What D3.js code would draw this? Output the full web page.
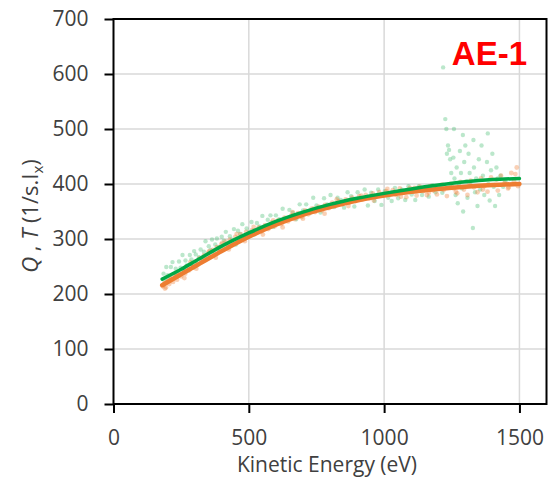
<!DOCTYPE html>
<html>
<head>
<meta charset="utf-8">
<script src="https://cdn.jsdelivr.net/npm/d3@7"></script>
<style>
  body { margin: 0; background: #fff; }
  svg { display: block; }
  text { font-family: "Open Sans", "Noto Sans", sans-serif; fill: #404040; }
</style>
</head>
<body>
<div id="chart"></div>
<script>
// Tick values
const xTicks = [0, 500, 1000, 1500];
const yTicks = [0, 100, 200, 300, 400, 500, 600, 700];

// Fitted curves (kinetic energy, value)
const fitQ = [[180, 227], [250, 245], [300, 259], [400, 287], [500, 311], [600, 332], [700, 349], [800, 363], [900, 374], [1000, 383], [1100, 391], [1200, 398], [1300, 404], [1400, 408], [1500, 410]];
const fitT = [[180, 216], [250, 236], [300, 250], [400, 278], [500, 304], [600, 326], [700, 344], [800, 358], [900, 370], [1000, 379], [1100, 386], [1200, 391], [1300, 395], [1400, 398], [1500, 400]];

// Measured points, Q (green)
const pointsQ = [
  [185, 237], [190, 226], [195, 249], [200, 234], [205, 226], [212, 249], [218, 258], [225, 237], [230, 246], [236, 232],
  [242, 259], [248, 248], [255, 271], [260, 242], [266, 261], [270, 252], [276, 243], [282, 271], [288, 263], [292, 254],
  [298, 278], [304, 272], [310, 255], [316, 267], [322, 281], [328, 266], [334, 277], [340, 296], [346, 267], [352, 287],
  [358, 280], [364, 299], [370, 270], [376, 290], [382, 301], [388, 285], [394, 279], [400, 304], [408, 297], [415, 313],
  [422, 288], [430, 305], [437, 299], [445, 318], [452, 290], [460, 315], [468, 309], [476, 327], [484, 304], [492, 319],
  [500, 312], [510, 331], [520, 308], [530, 329], [540, 323], [550, 342], [560, 319], [570, 335], [580, 343], [590, 322],
  [600, 343], [612, 336], [625, 355], [638, 334], [650, 353], [662, 348], [675, 336], [688, 363], [700, 352], [712, 363],
  [725, 347], [738, 375], [750, 361], [765, 348], [778, 374], [790, 363], [802, 380], [815, 358], [828, 375], [840, 371],
  [852, 357], [865, 385], [878, 378], [890, 359], [902, 385], [915, 372], [928, 390], [940, 361], [952, 384], [965, 369],
  [978, 390], [990, 362], [1002, 387], [1015, 375], [1028, 369], [1040, 393], [1052, 374], [1065, 390], [1078, 371], [1090, 396],
  [1102, 381], [1115, 371], [1128, 396], [1140, 380], [1152, 389], [1165, 377], [1178, 398], [1190, 385], [1202, 394], [1215, 384],
  [1218, 612], [1226, 518], [1230, 500], [1232, 455], [1236, 470], [1240, 462], [1244, 445], [1248, 420], [1252, 395], [1256, 448],
  [1258, 500], [1260, 410], [1264, 380], [1268, 430], [1272, 365], [1276, 400], [1280, 460], [1284, 420], [1288, 392], [1291, 489],
  [1292, 350], [1296, 440], [1300, 470], [1304, 405], [1308, 375], [1312, 455], [1316, 420], [1320, 398], [1328, 320], [1330, 480],
  [1332, 430], [1336, 385], [1340, 410], [1345, 360], [1350, 445], [1355, 390], [1360, 470], [1365, 415], [1370, 380], [1383, 492],
  [1380, 440], [1385, 400], [1390, 370], [1395, 425], [1400, 455], [1405, 395], [1410, 360], [1415, 430], [1420, 410], [1425, 380],
  [1430, 415], [1440, 395], [1448, 405]
];

// Measured points, T (orange)
const pointsT = [
  [182, 214], [188, 220], [194, 212], [200, 224], [206, 218], [214, 228], [220, 222], [228, 233], [235, 226], [242, 238],
  [250, 232], [258, 243], [265, 237], [272, 250], [280, 243], [288, 255], [295, 248], [302, 259], [310, 253], [318, 265],
  [326, 258], [334, 270], [342, 263], [350, 275], [358, 268], [366, 280], [374, 273], [382, 285], [390, 278], [398, 290],
  [406, 283], [414, 295], [422, 288], [430, 299], [440, 292], [450, 304], [460, 297], [470, 309], [480, 302], [490, 313],
  [500, 306], [512, 316], [524, 310], [536, 321], [548, 314], [560, 325], [572, 318], [584, 330], [596, 323], [608, 334],
  [620, 327], [632, 339], [645, 332], [658, 343], [670, 336], [682, 347], [695, 340], [708, 352], [720, 345], [732, 355],
  [745, 349], [758, 359], [770, 352], [782, 362], [795, 356], [808, 366], [820, 360], [832, 369], [845, 363], [858, 372],
  [870, 366], [882, 375], [895, 369], [908, 378], [920, 372], [932, 380], [945, 374], [958, 383], [970, 377], [982, 385],
  [995, 379], [1008, 387], [1020, 381], [1032, 389], [1045, 380], [1058, 392], [1070, 384], [1082, 376], [1095, 393], [1108, 386],
  [1120, 379], [1132, 395], [1145, 387], [1158, 380], [1170, 396], [1182, 388], [1195, 381], [1208, 398], [1220, 389], [1232, 378],
  [1245, 400], [1258, 392], [1270, 383], [1282, 404], [1295, 390], [1308, 380], [1320, 406], [1332, 394], [1345, 385], [1358, 410],
  [1370, 396], [1382, 386], [1395, 412], [1408, 398], [1420, 388], [1432, 415], [1445, 402], [1458, 392], [1470, 420], [1480, 405],
  [1490, 430], [1495, 396],
  [190, 210], [210, 230], [232, 236], [262, 229], [284, 258], [306, 246], [330, 262], [354, 278], [378, 266], [402, 293],
  [426, 281], [455, 309], [485, 296], [518, 322], [552, 308], [590, 334], [625, 321], [662, 349], [700, 337], [740, 355],
  [780, 346], [825, 372], [868, 360], [915, 379], [962, 370], [1012, 391], [1062, 377], [1112, 393], [1165, 384], [1215, 399],
  [1265, 386], [1315, 402], [1365, 390], [1415, 408], [1460, 394], [1485, 418]
];

const width = 554, height = 484;
const margin = { top: 19, right: 7.5, bottom: 80, left: 113.5 };

const svg = d3.select('#chart').append('svg')
  .attr('width', width)
  .attr('height', height);

const x = d3.scaleLinear().domain([0, 1600]).range([margin.left, width - margin.right]);
const y = d3.scaleLinear().domain([0, 700]).range([height - margin.bottom, margin.top]);

// Gridlines
svg.append('g')
  .selectAll('line')
  .data(xTicks.slice(1))
  .join('line')
  .attr('x1', d => x(d)).attr('x2', d => x(d))
  .attr('y1', y(0)).attr('y2', y(700))
  .attr('stroke', '#d9d9d9').attr('stroke-width', 1.5);

svg.append('g')
  .selectAll('line')
  .data(yTicks.slice(1, -1))
  .join('line')
  .attr('x1', x(0)).attr('x2', x(1600))
  .attr('y1', d => y(d)).attr('y2', d => y(d))
  .attr('stroke', '#d9d9d9').attr('stroke-width', 1.5);

// Scatter points
svg.append('g')
  .selectAll('circle')
  .data(pointsQ)
  .join('circle')
  .attr('cx', d => x(d[0])).attr('cy', d => y(d[1]))
  .attr('r', 2.2)
  .attr('fill', '#3cb96b')
  .attr('fill-opacity', 0.35);

svg.append('g')
  .selectAll('circle')
  .data(pointsT)
  .join('circle')
  .attr('cx', d => x(d[0])).attr('cy', d => y(d[1]))
  .attr('r', 2.4)
  .attr('fill', '#f08a45')
  .attr('fill-opacity', 0.4);

// Fit lines
const line = d3.line().x(d => x(d[0])).y(d => y(d[1])).curve(d3.curveMonotoneX);

svg.append('path')
  .datum(fitT)
  .attr('d', line)
  .attr('fill', 'none')
  .attr('stroke', '#ed7d31')
  .attr('stroke-width', 4.5)
  .attr('stroke-linecap', 'round');

svg.append('path')
  .datum(fitQ)
  .attr('d', line)
  .attr('fill', 'none')
  .attr('stroke', '#00a846')
  .attr('stroke-width', 3.5)
  .attr('stroke-linecap', 'round');

// Frame
svg.append('rect')
  .attr('x', x(0)).attr('y', y(700))
  .attr('width', x(1600) - x(0))
  .attr('height', y(0) - y(700))
  .attr('fill', 'none')
  .attr('stroke', '#000')
  .attr('stroke-width', 2);

// Axes
const xAxis = svg.append('g')
  .attr('transform', `translate(0,${y(0)})`)
  .call(d3.axisBottom(x).tickValues(xTicks).tickFormat(d3.format('d')).tickSize(9).tickPadding(17));

const yAxis = svg.append('g')
  .attr('transform', `translate(${x(0)},0)`)
  .call(d3.axisLeft(y).tickValues(yTicks).tickFormat(d3.format('d')).tickSize(9).tickPadding(16));

[xAxis, yAxis].forEach(g => {
  g.select('.domain').remove();
  g.selectAll('.tick line').attr('stroke', '#000').attr('stroke-width', 2);
  g.selectAll('.tick text')
    .style('font-family', '"Open Sans", "Noto Sans", sans-serif')
    .style('font-size', '21px')
    .attr('fill', '#404040');
});

// Axis titles
svg.append('text')
  .attr('x', x(800) - 3)
  .attr('y', 472)
  .attr('text-anchor', 'middle')
  .style('font-size', '21px')
  .text('Kinetic Energy (eV)');

const yTitle = svg.append('text')
  .attr('transform', 'translate(38,216) rotate(-90)')
  .attr('text-anchor', 'middle')
  .style('font-size', '22px');
yTitle.append('tspan').style('font-style', 'italic').text('Q');
yTitle.append('tspan').text(' , ');
yTitle.append('tspan').style('font-style', 'italic').text('T');
yTitle.append('tspan').text(' (1/s.I');
yTitle.append('tspan').attr('dy', 5).style('font-size', '15px').text('x');
yTitle.append('tspan').attr('dy', -5).text(')');

// Panel label
svg.append('text')
  .attr('x', 527)
  .attr('y', 65)
  .attr('text-anchor', 'end')
  .style('font-family', '"Liberation Sans", Arial, sans-serif')
  .style('font-weight', 'bold')
  .style('font-size', '33px')
  .style('fill', '#ff0000')
  .text('AE-1');
</script>
</body>
</html>
